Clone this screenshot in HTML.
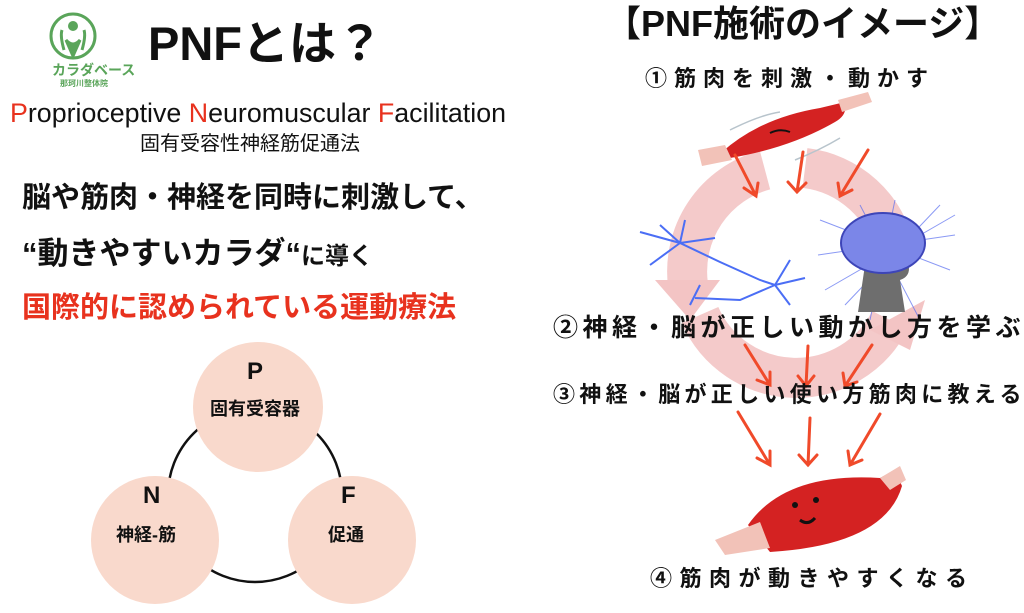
<!DOCTYPE html>
<html><head><meta charset="utf-8"><style>
body{margin:0;width:1024px;height:613px;background:#fff;position:relative;overflow:hidden;font-family:"Liberation Sans","Noto Sans CJK JP",sans-serif;}
.t{position:absolute;white-space:nowrap;font-weight:bold;color:#111;line-height:1;}
svg{position:absolute;left:0;top:0}
</style></head><body>
<svg width="1024" height="613" viewBox="0 0 1024 613">
  <!-- logo -->
  <circle cx="73" cy="36" r="22" fill="none" stroke="#5aa55a" stroke-width="3"/>
  <circle cx="73" cy="26" r="5" fill="#5aa55a"/>
  <path d="M64 50 Q60 36 62 30 M82 50 Q86 36 84 30 M66 40 Q73 48 80 40 L73 56 Z" stroke="#5aa55a" stroke-width="3" fill="#5aa55a"/>
  <!-- PNF circles -->
  <circle cx="255" cy="495" r="87" fill="none" stroke="#111" stroke-width="2.5"/>
  <circle cx="258" cy="407" r="65" fill="#f9d9cc"/>
  <circle cx="155" cy="540" r="64" fill="#f9d9cc"/>
  <circle cx="352" cy="540" r="64" fill="#f9d9cc"/>
  <!-- pink ring -->
  <path d="M765 170 A105 105 0 0 0 688 285" fill="none" stroke="#f3c4c4" stroke-width="40" opacity="0.9"/>
  <polygon points="655,280 720,280 690,320" fill="#f3c4c4"/>
  <path d="M700 315 A105 105 0 0 0 890 320" fill="none" stroke="#f3c4c4" stroke-width="40" opacity="0.9"/>
  <path d="M805 168 A105 105 0 0 1 895 250" fill="none" stroke="#f3c4c4" stroke-width="40" opacity="0.9"/>
  <polygon points="870,330 925,300 910,350" fill="#f3c4c4"/>
  <!-- top muscle -->
  <path d="M722 152 Q760 118 820 108 L845 102 Q848 115 835 122 Q790 148 730 158 Z" fill="#d42222"/>
  <path d="M698 150 L725 145 L732 160 L702 166 Z" fill="#f2c2b8"/>
  <path d="M838 100 L868 92 L872 102 L842 112 Z" fill="#f2c2b8"/>
  <path d="M770 133 Q780 128 790 132" stroke="#111" stroke-width="2" fill="none"/>
  <g stroke="#b8c4cc" stroke-width="1.5" fill="none">
    <path d="M730 130 Q760 115 780 112"/><path d="M795 160 Q820 150 840 138"/>
  </g>
  <!-- neuron -->
  <g stroke="#4b6ef5" stroke-width="2" fill="none">
    <path d="M640 232 L680 243 L720 262 L760 280 L775 285 M680 243 L660 225 M680 243 L685 220 M680 243 L650 265 M680 243 L715 238 M775 285 L790 260 M775 285 L805 278 M775 285 L790 305 M775 285 L740 300 L695 298 M700 285 L690 305"/>
  </g>
  <!-- brain -->
  <g stroke="#5a6ef0" stroke-width="1" opacity="0.7">
    <line x1="820" y1="220" x2="950" y2="270"/><line x1="818" y1="255" x2="955" y2="235"/>
    <line x1="860" y1="205" x2="920" y2="320"/><line x1="895" y1="200" x2="870" y2="320"/>
    <line x1="825" y1="290" x2="955" y2="215"/><line x1="845" y1="305" x2="940" y2="205"/>
  </g>
  <path d="M865 265 L858 312 L905 312 L900 280 Q915 275 905 255 Z" fill="#6e6e6e"/>
  <ellipse cx="883" cy="243" rx="42" ry="30" fill="#7b86e8" stroke="#3d45b8" stroke-width="2"/>
  <!-- arrows -->
  <g stroke="#f04a2a" stroke-width="3" fill="none" stroke-linecap="round">
    <path d="M735 155 L756 196 M744 188 L756 196 L758 183"/>
    <path d="M803 152 L797 192 M788 182 L797 192 L806 183"/>
    <path d="M868 150 L840 196 M838 183 L840 196 L852 190"/>
    <path d="M745 345 L770 385 M757 380 L770 385 L770 372"/>
    <path d="M808 346 L806 386 M798 376 L806 386 L814 376"/>
    <path d="M872 345 L845 386 M843 373 L845 386 L857 382"/>
    <path d="M738 412 L770 465 M757 458 L770 465 L770 451"/>
    <path d="M810 418 L808 465 M799 455 L808 465 L817 455"/>
    <path d="M880 414 L850 465 M848 451 L850 465 L862 460"/>
  </g>
  <!-- bottom muscle -->
  <path d="M748 525 Q785 472 880 478 L895 470 L902 486 Q885 545 770 552 Z" fill="#d42222"/>
  <path d="M715 540 L760 522 L770 548 L725 555 Z" fill="#f2c2b8"/>
  <path d="M880 478 L900 466 L906 480 L890 490 Z" fill="#f2c2b8"/>
  <g fill="#111"><circle cx="795" cy="505" r="3"/><circle cx="816" cy="500" r="3"/><path d="M800 520 Q808 526 815 518" stroke="#111" stroke-width="3" fill="none"/></g>
</svg>
<div class="t" style="left:52px;top:63px;font-size:14px;color:#5aa55a">カラダベース</div>
<div class="t" style="left:60px;top:80px;font-size:8px;color:#5aa55a">那珂川整体院</div>
<div class="t" style="left:148px;top:20px;font-size:47px">PNFとは？</div>
<div class="t" style="left:10px;top:100px;font-size:26.8px;font-weight:normal"><span style="color:#e8321e">P</span>roprioceptive <span style="color:#e8321e">N</span>euromuscular <span style="color:#e8321e">F</span>acilitation</div>
<div class="t" style="left:140px;top:134px;font-size:20px;font-weight:normal">固有受容性神経筋促通法</div>
<div class="t" style="left:22px;top:184px;font-size:29px">脳や筋肉・神経を同時に刺激して、</div>
<div class="t" style="left:22px;top:238px;font-size:31px">“動きやすいカラダ“<span style="font-size:24px">に導く</span></div>
<div class="t" style="left:22px;top:294px;font-size:29px;color:#e8321e">国際的に認められている運動療法</div>
<div class="t" style="left:247px;top:360px;font-size:24px">P</div>
<div class="t" style="left:210px;top:400px;font-size:18px">固有受容器</div>
<div class="t" style="left:143px;top:484px;font-size:24px">N</div>
<div class="t" style="left:116px;top:526px;font-size:18px">神経-筋</div>
<div class="t" style="left:341px;top:484px;font-size:24px">F</div>
<div class="t" style="left:328px;top:526px;font-size:18px">促通</div>
<div class="t" style="left:605px;top:6px;font-size:36px">【PNF施術のイメージ】</div>
<div class="t" style="left:645px;top:68px;font-size:22px;letter-spacing:7px">①筋肉を刺激・動かす</div>
<div class="t" style="left:553px;top:316px;font-size:25px;letter-spacing:4.5px">②神経・脳が正しい動かし方を学ぶ</div>
<div class="t" style="left:553px;top:384px;font-size:22px;letter-spacing:4.3px">③神経・脳が正しい使い方筋肉に教える</div>
<div class="t" style="left:650px;top:568px;font-size:22px;letter-spacing:7.5px">④筋肉が動きやすくなる</div>
</body></html>
